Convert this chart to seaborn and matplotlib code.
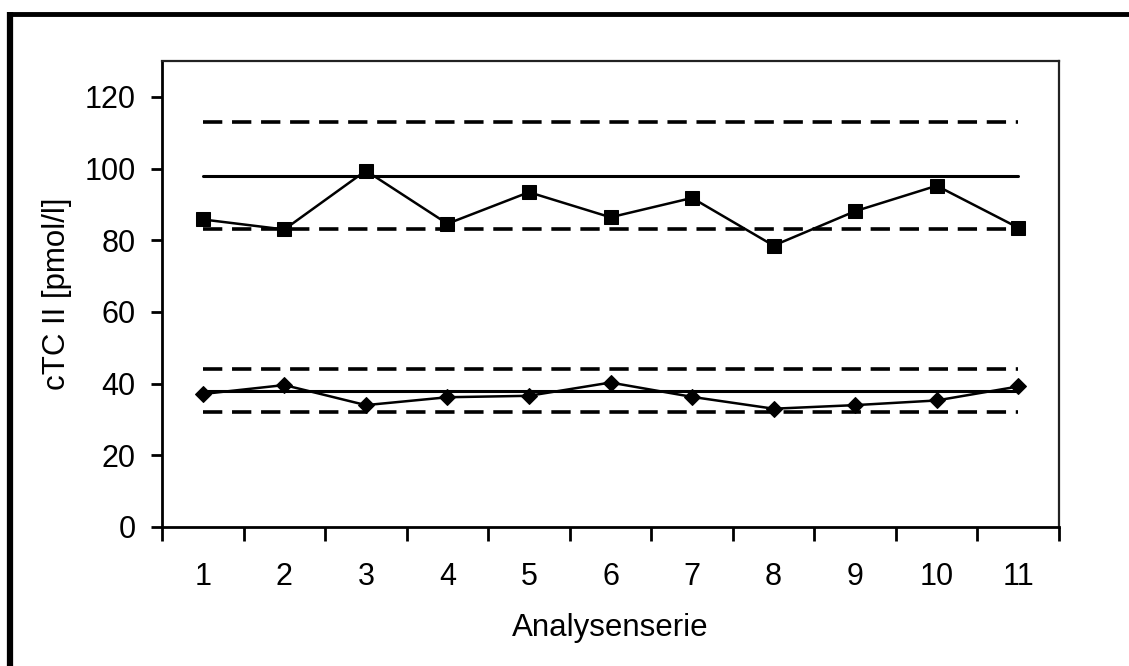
import matplotlib
matplotlib.use("Agg")
import matplotlib.pyplot as plt
from matplotlib.lines import Line2D
from matplotlib.ticker import FixedLocator, NullFormatter
import seaborn as sns
import pandas as pd

# Analysis series and measured cTC II values
series = list(range(1, 12))
high_level = [85.8, 83.0, 99.4, 84.6, 93.4, 86.4, 91.8, 78.5, 88.1, 95.2, 83.5]
low_level = [37.1, 39.6, 34.0, 36.2, 36.6, 40.3, 36.3, 33.0, 34.0, 35.3, 39.2]

# Target values and control limits (mean, lower, upper)
high_limits = {"mean": 98.0, "lower": 83.0, "upper": 113.0}
low_limits = {"mean": 38.0, "lower": 32.0, "upper": 44.0}

y_ticks = [0, 20, 40, 60, 80, 100, 120]

sns.set_theme(style="white")
plt.rcParams["font.family"] = ["Liberation Sans", "DejaVu Sans"]
plt.rcParams["lines.scale_dashes"] = False

fig = plt.figure(figsize=(11.29, 6.66), dpi=100)
ax = fig.add_axes([162 / 1129, 1 - 527 / 666, (1059 - 162) / 1129, (527 - 61) / 666])

# control lines across the measurement range
limit_rows = []
for name, lim in (("high", high_limits), ("low", low_limits)):
    for kind, val in lim.items():
        for x in (series[0], series[-1]):
            limit_rows.append({"x": x, "y": val, "line": f"{name}_{kind}", "kind": kind})
limits = pd.DataFrame(limit_rows)

for line_id, grp in limits.groupby("line"):
    kind = grp["kind"].iloc[0]
    if kind == "mean":
        sns.lineplot(data=grp, x="x", y="y", ax=ax, color="black", lw=2.2,
                     legend=False, estimator=None)
    else:
        sns.lineplot(data=grp, x="x", y="y", ax=ax, color="black", lw=2.6,
                     legend=False, estimator=None, linestyle=(0, (13.9, 7.0)))

data = pd.DataFrame({"series": series * 2,
                     "value": high_level + low_level,
                     "level": ["high"] * len(series) + ["low"] * len(series)})

sns.lineplot(data=data[data.level == "high"], x="series", y="value", ax=ax,
             color="black", lw=1.8, marker="s", markersize=9.5,
             markeredgecolor="black", legend=False, estimator=None)
sns.lineplot(data=data[data.level == "low"], x="series", y="value", ax=ax,
             color="black", lw=1.8, marker="D", markersize=8,
             markeredgecolor="black", legend=False, estimator=None)

ax.set_xlim(0.5, 11.5)
ax.set_ylim(0, 130)

ax.xaxis.set_major_locator(FixedLocator(series))
ax.set_xticklabels([str(s) for s in series])
ax.xaxis.set_minor_locator(FixedLocator([s + 0.5 for s in range(0, 12)]))
ax.xaxis.set_minor_formatter(NullFormatter())
ax.set_yticks(y_ticks)

ax.tick_params(axis="x", which="major", length=0, pad=25, labelsize=22, colors="black")
ax.tick_params(axis="x", which="minor", bottom=True, length=10, width=2, direction="out", color="black")
ax.tick_params(axis="y", which="major", left=True, length=8, width=2, direction="out",
               pad=11, labelsize=22, colors="black")

for side in ("left", "bottom"):
    ax.spines[side].set_linewidth(2.0)
    ax.spines[side].set_color("black")
for side in ("top", "right"):
    ax.spines[side].set_linewidth(1.6)
    ax.spines[side].set_color("#222222")

ax.set_xlabel("Analysenserie", fontsize=22.5, color="black")
ax.set_ylabel("cTC II [pmol/l]", fontsize=22.5, color="black")
ax.xaxis.set_label_coords(0.5, -0.185)
ax.yaxis.set_label_coords(-0.1, 0.5)

# chart frame along the top and left
fig.add_artist(Line2D([10 / 1129, 1.0], [1 - 14 / 666, 1 - 14 / 666],
                      transform=fig.transFigure, color="black", lw=3.5,
                      solid_capstyle="butt"))
fig.add_artist(Line2D([10 / 1129, 10 / 1129], [0.0, 1 - 12 / 666],
                      transform=fig.transFigure, color="black", lw=4.5,
                      solid_capstyle="butt"))

fig.savefig("out.png", dpi=100)
